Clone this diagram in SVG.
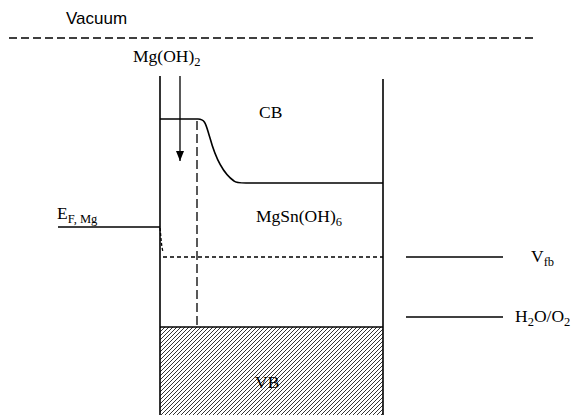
<svg xmlns="http://www.w3.org/2000/svg" width="575" height="415" viewBox="0 0 575 415">
<style>
.ln{stroke:#000;stroke-width:1.6;fill:none}
.thin{stroke:#000;stroke-width:1.3;fill:none}
.serif{font-family:"Liberation Serif","Times New Roman",serif;font-size:17.5px;fill:#000}
.sub{font-size:12.5px}
.sans{font-family:"Liberation Sans",Arial,sans-serif;font-size:17px;fill:#000}
</style>
<defs>
<pattern id="hatch" patternUnits="userSpaceOnUse" width="4" height="4">
<path d="M-1,1 L1,-1 M0,4 L4,0 M3,5 L5,3" stroke="#000" stroke-width="0.8"/>
</pattern>
<marker id="arr" markerWidth="10" markerHeight="8" refX="10" refY="4" orient="auto" markerUnits="userSpaceOnUse" viewBox="0 0 10 8">
<path d="M0,0 L10,4 L0,8 Z" fill="#000"/>
</marker>
</defs>
<g id="vacuum">
<text class="sans" x="66" y="24">Vacuum</text>
<line class="thin" x1="9" y1="38" x2="537" y2="38" stroke-dasharray="8,4"/>
</g>
<g id="semiconductor">
<rect x="160" y="327" width="223" height="88" fill="url(#hatch)" stroke="none"/>
<line class="ln" x1="160" y1="327" x2="383" y2="327"/>
<line class="ln" x1="160" y1="76" x2="160" y2="415"/>
<line class="ln" x1="383" y1="79" x2="383" y2="415"/>
<text class="serif" x="259" y="118">CB</text>
<text class="serif" x="256" y="222">MgSn(OH)<tspan class="sub" dy="4">6</tspan></text>
<text class="serif" x="255" y="388">VB</text>
</g>
<g id="mgoh2">
<text class="serif" x="133" y="62">Mg(OH)<tspan class="sub" dy="4">2</tspan></text>
</g>
<g id="ef">
<text class="serif" x="57" y="219">E<tspan class="sub" dy="3.5">F, Mg</tspan></text>
<line class="ln" x1="58" y1="227" x2="160" y2="227"/>
</g>
<g id="vfb">
<line class="thin" x1="406" y1="257" x2="503" y2="257"/>
<text class="serif" x="531" y="262">V<tspan class="sub" dy="4">fb</tspan></text>
</g>
<g id="h2o">
<line class="thin" x1="406" y1="317" x2="503" y2="317"/>
<text class="serif" x="515" y="322">H<tspan class="sub" dy="4">2</tspan><tspan dy="-4">O/O</tspan><tspan class="sub" dy="4">2</tspan></text>
</g>
<g id="connectors">
<path class="ln" d="M160,119 L198,119 C206,119 206,126 210,138 C216,160 224,174 234,181 C236,183 240,183 246,183 L383,183"/>
<line class="thin" x1="180" y1="76" x2="180" y2="161" marker-end="url(#arr)"/>
<line class="thin" x1="197" y1="121" x2="197" y2="327" stroke-dasharray="9,4"/>
<path class="thin" d="M160,228 C161,236 161,244 163,252" stroke-dasharray="3,2"/>
<line class="thin" x1="163" y1="257" x2="383" y2="257" stroke-dasharray="4,3"/>
</g>
</svg>
